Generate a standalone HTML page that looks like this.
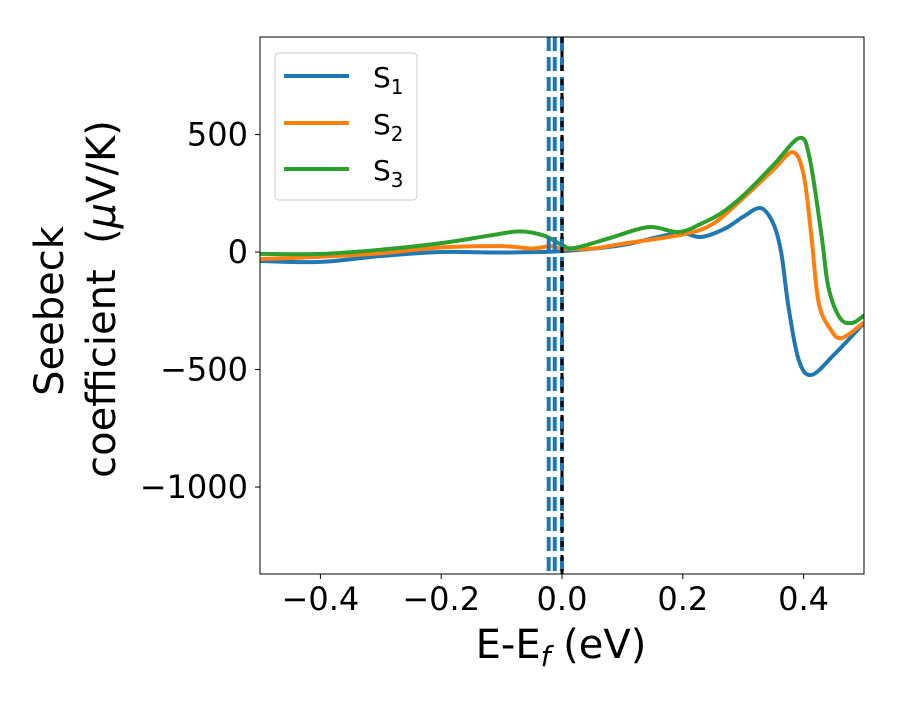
<!DOCTYPE html>
<html><head><meta charset="utf-8"><style>
body{margin:0;background:#fff}
svg text{font-family:"DejaVu Sans","Liberation Sans",sans-serif;fill:#000}
</style></head><body>
<svg id="chart" width="900" height="700">
<rect x="0" y="0" width="900" height="700" fill="#fff"/>
<g id="plot"></g>
<g id="axes"></g>
<text x="561" y="658" font-size="40" text-anchor="middle">E-E<tspan font-size="28" dy="8" font-style="italic">f</tspan><tspan dy="-8"> (eV)</tspan></text>
<text transform="translate(63,311) rotate(-90)" font-size="40" text-anchor="middle">Seebeck</text>
<text transform="translate(115,299) rotate(-90)" font-size="40" text-anchor="middle" style="white-space:pre">coefficient  (<tspan font-style="italic">μ</tspan>V/K)</text>
<g>
<rect x="275" y="53" width="142" height="147" rx="4" fill="#fff" fill-opacity="0.8" stroke="#ccc" stroke-width="1"/>
<line x1="284" y1="76" x2="349" y2="76" stroke="#1f77b4" stroke-width="4"/>
<text x="373" y="87" font-size="28">S<tspan font-size="20" dy="7">1</tspan></text>
<line x1="284" y1="123" x2="349" y2="123" stroke="#ff7f0e" stroke-width="4"/>
<text x="373" y="134" font-size="28">S<tspan font-size="20" dy="7">2</tspan></text>
<line x1="284" y1="169" x2="349" y2="169" stroke="#2ca02c" stroke-width="4"/>
<text x="373" y="180" font-size="28">S<tspan font-size="20" dy="7">3</tspan></text>
</g>
</svg>
<script>
const xTicks=[-0.4,-0.2,0.0,0.2,0.4];
const xTickLabels=["−0.4","−0.2","0.0","0.2","0.4"];
const yTicks=[500,0,-500,-1000];
const yTickLabels=["500","0","−500","−1000"];
const s1X=[-0.5,-0.4,-0.3,-0.2,-0.1,0,0.1,0.19,0.23,0.27,0.3,0.329,0.35,0.363,0.375,0.392,0.413,0.45,0.5];
const s1Y=[-38,-42,-17,0,-2,4,30,80,64,100,150,187,120,-4,-234,-460,-523,-438,-302];
const s2X=[-0.5,-0.4,-0.3,-0.2,-0.1,-0.05,-0.02,0,0.05,0.1,0.2,0.25,0.3,0.35,0.382,0.4,0.413,0.425,0.445,0.463,0.5];
const s2Y=[-30,-20,-5,20,25,15,25,15,15,35,75,120,230,350,425,330,64,-217,-330,-366,-300];
const s3X=[-0.5,-0.4,-0.3,-0.2,-0.12,-0.07,-0.03,0,0.02,0.08,0.143,0.193,0.23,0.264,0.3,0.35,0.393,0.41,0.43,0.441,0.46,0.48,0.5];
const s3Y=[-8,-8,10,38,70,88,70,30,17,60,106,85,120,166,240,370,485,400,64,-149,-280,-302,-270];
const vlines=[-0.022,-0.012,0.0];
const X0=-0.5,X1=0.5,Y0=-1370,Y1=915,L=260,R=864,T=37,B=574;
function sx(v){return L+(v-X0)/(X1-X0)*(R-L);}
function sy(v){return B-(v-Y0)/(Y1-Y0)*(B-T);}
const NS="http://www.w3.org/2000/svg";
const plot=document.getElementById('plot'),axes=document.getElementById('axes');
function mk(tag,attrs,parent){const e=document.createElementNS(NS,tag);for(const k in attrs)e.setAttribute(k,attrs[k]);parent.appendChild(e);return e;}
const cp=mk('clipPath',{id:'clip'},plot);mk('rect',{x:L,y:T,width:R-L,height:B-T},cp);
function pathD(xs,ys){const p=xs.map((x,i)=>[sx(x),sy(ys[i])]);let d='M'+p[0][0]+','+p[0][1];
for(let i=0;i<p.length-1;i++){const p0=p[Math.max(0,i-1)],p1=p[i],p2=p[i+1],p3=p[Math.min(p.length-1,i+2)];
const c1=[p1[0]+(p2[0]-p0[0])/6,p1[1]+(p2[1]-p0[1])/6],c2=[p2[0]-(p3[0]-p1[0])/6,p2[1]-(p3[1]-p1[1])/6];
d+=' C'+c1[0]+','+c1[1]+' '+c2[0]+','+c2[1]+' '+p2[0]+','+p2[1];}return d;}
const series=[[s1X,s1Y,'#1f77b4','series-s1'],[s2X,s2Y,'#ff7f0e','series-s2'],[s3X,s3Y,'#2ca02c','series-s3']];
const g=mk('g',{'clip-path':'url(#clip)'},plot);
series.forEach(s=>{const e=mk('path',{d:pathD(s[0],s[1]),fill:'none',stroke:s[2],'stroke-width':4,'stroke-linejoin':'round'},g);

});
vlines.forEach((v,i)=>{const e=mk('line',{x1:sx(v),x2:sx(v),y1:T,y2:B,stroke:'#1f77b4','stroke-width':4,'stroke-dasharray':'14,6'},g);

});
const z=mk('line',{x1:sx(0),x2:sx(0),y1:T,y2:B,stroke:'#000','stroke-width':3,'stroke-dasharray':'6,8'},g);


const fr=mk('rect',{x:L,y:T,width:R-L,height:B-T,fill:'none',stroke:'#000','stroke-width':1},axes);


xTicks.forEach((v,i)=>{const t=mk('line',{x1:sx(v),x2:sx(v),y1:B,y2:B+5,stroke:'#000'},axes);


const l=mk('text',{x:sx(v),y:B+36,'font-size':32,'text-anchor':'middle'},axes);l.textContent=xTickLabels[i];

});
yTicks.forEach((v,i)=>{const t=mk('line',{x1:L-5,x2:L,y1:sy(v),y2:sy(v),stroke:'#000'},axes);


const l=mk('text',{x:L-12,y:sy(v)+11,'font-size':32,'text-anchor':'end'},axes);l.textContent=yTickLabels[i];

});
</script>
</body></html>
